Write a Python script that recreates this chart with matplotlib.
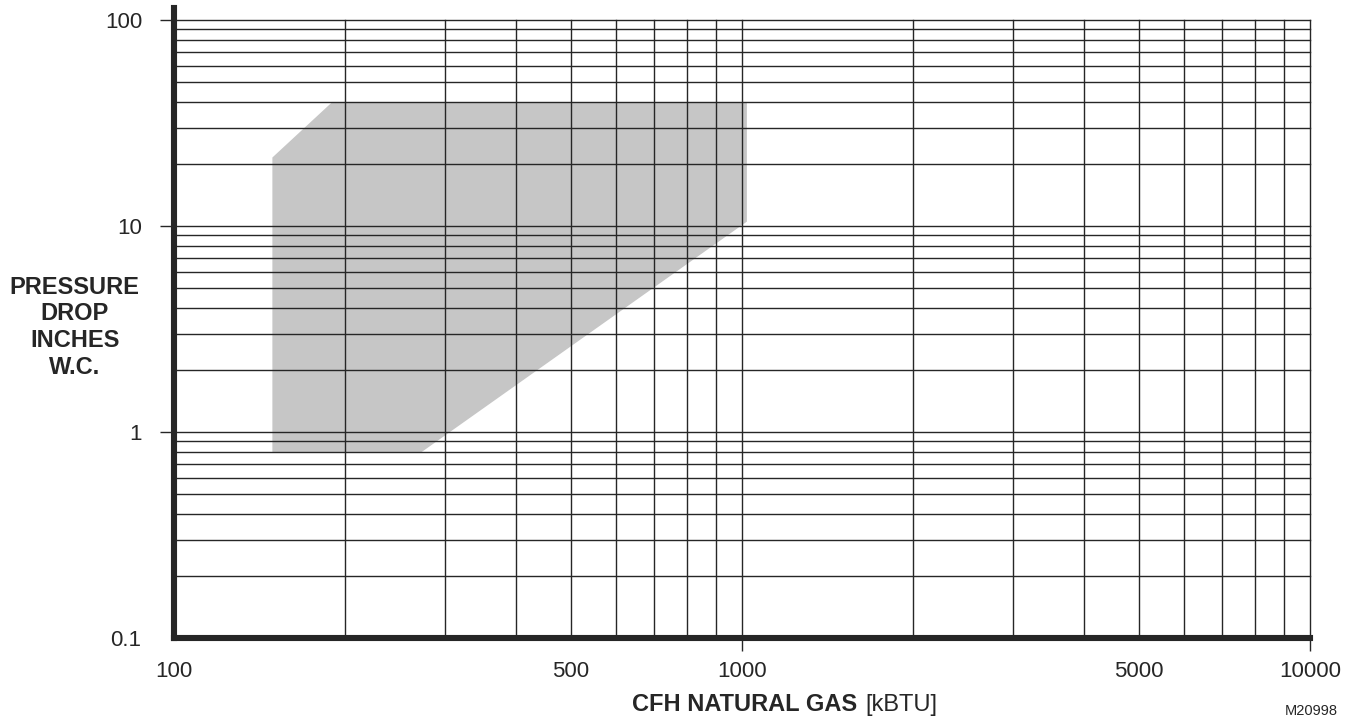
import numpy as np
import matplotlib.pyplot as plt
from matplotlib.ticker import FixedLocator, FuncFormatter

plt.rcParams['font.family'] = ['Liberation Sans', 'DejaVu Sans']

# region shaded on the chart (flow vs pressure drop)
area_x = [149, 190, 1020, 1020, 273, 149]
area_y = [21.5, 40, 40, 10.5, 0.8, 0.8]

x_major = [1000, 10000]
x_labeled = [100, 500, 1000, 5000, 10000]
y_major = [1, 10, 100]
y_labeled = [0.1, 1, 10, 100]

ink = '#262626'

fig = plt.figure(figsize=(13.6, 7.22), dpi=100)
ax = fig.add_axes([174 / 1360, 1 - 638 / 722, 1136 / 1360, 618 / 722])
ax.set_xscale('log')
ax.set_yscale('log')
ax.set_xlim(100, 10000)
ax.set_ylim(0.1, 100)

ax.fill(area_x, area_y, color='#c6c6c6', lw=0, zorder=1)

# ticks
x_minor = [m * 10 ** e for e in (2, 3) for m in range(1, 10)]
y_minor = [m * 10 ** e for e in (-1, 0, 1) for m in range(1, 10)]
ax.xaxis.set_major_locator(FixedLocator(x_major))
ax.xaxis.set_minor_locator(FixedLocator([v for v in x_minor if v not in x_major]))
ax.yaxis.set_major_locator(FixedLocator(y_major))
ax.yaxis.set_minor_locator(FixedLocator([v for v in y_minor if v not in y_major]))

def lab(vals):
    return FuncFormatter(lambda v, p: ('%g' % v) if any(abs(v - t) < 1e-9 * t for t in vals) else '')

ax.xaxis.set_major_formatter(lab(x_labeled))
ax.xaxis.set_minor_formatter(lab(x_labeled))
ax.yaxis.set_major_formatter(lab(y_labeled))
ax.yaxis.set_minor_formatter(lab(y_labeled))

ax.tick_params(axis='x', which='major', length=9.5, width=1.0, color=ink, pad=7,
               labelsize=16, labelcolor=ink)
ax.tick_params(axis='x', which='minor', length=0, pad=16.5, labelsize=16, labelcolor=ink)
ax.tick_params(axis='y', which='major', length=10, width=1.0, color=ink, pad=13,
               labelsize=16, labelcolor=ink)
ax.tick_params(axis='y', which='minor', length=0, pad=24, labelsize=16, labelcolor=ink)

ax.grid(True, which='both', color=ink, lw=1.0)
for a in (ax.xaxis, ax.yaxis):
    for t in a.get_major_ticks() + a.get_minor_ticks():
        t.gridline.set_clip_on(False)

for s in ('top', 'right'):
    ax.spines[s].set_visible(False)
for s in ('left', 'bottom'):
    ax.spines[s].set_linewidth(4.4)
    ax.spines[s].set_color(ink)
    ax.spines[s].set_capstyle('projecting')
    ax.spines[s].set_zorder(3)
ax.spines['left'].set_bounds(0.1, 114)

# labels
ax.text(-0.0875, 0.503, 'PRESSURE\nDROP\nINCHES\nW.C.', transform=ax.transAxes,
        ha='center', va='center', fontsize=17, fontweight='bold', color=ink,
        linespacing=1.2)
ax.text(0.601, -0.108, 'CFH NATURAL GAS', transform=ax.transAxes,
        ha='right', va='center', fontsize=17, fontweight='bold', color=ink)
ax.text(0.609, -0.108, '[kBTU]', transform=ax.transAxes,
        ha='left', va='center', fontsize=17, color=ink)
fig.text(1338 / 1360, 1 - 711 / 722, 'M20998', ha='right', va='center',
         fontsize=10.5, color=ink)

fig.savefig('out.png', dpi=100)
